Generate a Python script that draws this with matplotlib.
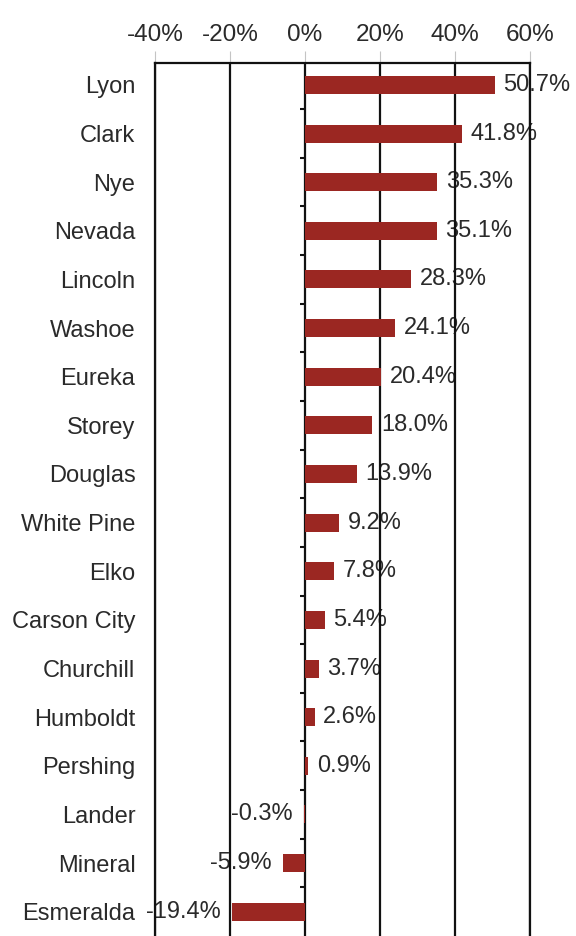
import numpy as np
import matplotlib
matplotlib.use('Agg')
import matplotlib.pyplot as plt

# cambio porcentual por condado
condados = ['Lyon', 'Clark', 'Nye', 'Nevada', 'Lincoln', 'Washoe', 'Eureka',
            'Storey', 'Douglas', 'White Pine', 'Elko', 'Carson City',
            'Churchill', 'Humboldt', 'Pershing', 'Lander', 'Mineral', 'Esmeralda']
cambio = [50.7, 41.8, 35.3, 35.1, 28.3, 24.1, 20.4, 18.0, 13.9, 9.2, 7.8, 5.4,
          3.7, 2.6, 0.9, -0.3, -5.9, -19.4]
ticks_x = [-40, -20, 0, 20, 40, 60]

plt.rcParams['font.family'] = ['Liberation Sans', 'DejaVu Sans']
rojo = '#9b2722'
gris = '#2a2a2a'

fig = plt.figure(figsize=(5.76, 9.36), dpi=100)
ax = fig.add_axes([0.269, 0.0, 0.651, 0.9327])

y = np.arange(len(condados))
ax.barh(y, cambio, height=0.37, color=rojo, zorder=2)

ax.set_xlim(-40, 60)
ax.set_ylim(len(condados) - 0.5, -0.45)

# lineas verticales en cada marca
for t in ticks_x:
    ax.axvline(t, color='#111111', lw=1.6, zorder=1)

# marcas pequeñas sobre el eje cero entre categorias
for b in y[:-1] + 0.5:
    ax.plot([-1.4, 0], [b, b], color='#111111', lw=1.5, zorder=3, solid_capstyle='butt')

ax.xaxis.tick_top()
ax.set_xticks(ticks_x)
ax.set_xticklabels([f'{t}%' for t in ticks_x], fontsize=17.5, color=gris)
ax.tick_params(axis='x', length=9, width=0.8, color='#c4c4c4', pad=3.5)

ax.set_yticks(y)
ax.set_yticklabels(condados, fontsize=17, color=gris)
ax.tick_params(axis='y', length=0, pad=14)

for s in ['top', 'left', 'right']:
    ax.spines[s].set_linewidth(1.6)
    ax.spines[s].set_color('#111111')
ax.spines['bottom'].set_visible(False)

# etiquetas de valor
for yi, v in zip(y, cambio):
    if v >= 0:
        ax.annotate(f'{v:.1f}%', (v, yi), xytext=(6, 0), textcoords='offset points',
                    ha='left', va='center', fontsize=17, color=gris, zorder=0.5)
    else:
        ax.annotate(f'{v:.1f}%', (v, yi), xytext=(-8, 0), textcoords='offset points',
                    ha='right', va='center', fontsize=17, color=gris, zorder=0.5)

fig.savefig('out.png', dpi=100)
